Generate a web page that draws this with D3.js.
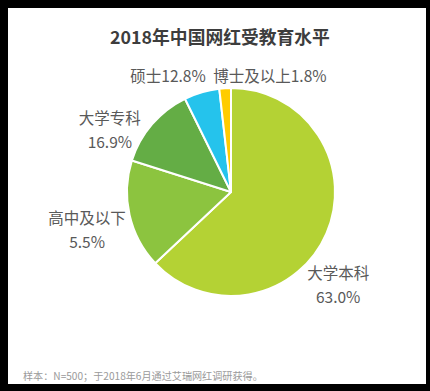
<!DOCTYPE html>
<html>
<head>
<meta charset="utf-8">
<script src="https://cdn.jsdelivr.net/npm/d3@7"></script>
<style>
  html, body { margin: 0; padding: 0; background: #000; }
  svg { display: block; }
</style>
</head>
<body>
<script>
// ---- data ----
const categories = ["大学本科", "高中及以下", "大学专科", "硕士", "博士及以上"];
const values = [63.0, 16.9, 12.8, 5.5, 1.8];
const labelNames = ["大学本科", "高中及以下", "大学专科", "硕士", "博士及以上"];
const labelPercents = ["63.0%", "5.5%", "16.9%", "12.8%", "1.8%"];
const colors = ["#b4d234", "#8cc43f", "#64ad45", "#25c3ec", "#ffcc00"];
const title = "2018年中国网红受教育水平";
const footnote = "样本：N=500；于2018年6月通过艾瑞网红调研获得。";

// ---- layout ----
const W = 430, H = 391;
const cx = 231, cy = 192, R = 104;
// label anchors: [angle (deg clockwise from top), radius, twoLine]
const labelPlacement = [
  {angle: 131, radius: 142, twoLine: true},
  {angle: 255, radius: 149, twoLine: true},
  {angle: 297, radius: 136, twoLine: true},
  {angle: 331.5, radius: 132, twoLine: false},
  {angle: 18.6, radius: 122, twoLine: false}
];

const svg = d3.select("body").append("svg").attr("width", W).attr("height", H);
svg.append("rect").attr("x", 0).attr("y", 0).attr("width", W).attr("height", H).attr("fill", "#000");
svg.append("rect").attr("x", 8).attr("y", 8).attr("width", 418).attr("height", 376).attr("fill", "#fff");

const font = "'Noto Sans CJK SC', 'Noto Sans', sans-serif";

function fitWidth(sel, target, size) {
  const len = sel.node().getComputedTextLength();
  if (len > 0) sel.attr("font-size", size * target / len);
}

const titleText = svg.append("text")
  .attr("x", 220).attr("y", 44)
  .attr("text-anchor", "middle")
  .attr("font-family", font)
  .attr("font-weight", "bold")
  .attr("font-size", 20)
  .attr("fill", "#3d3d3d")
  .text(title);
fitWidth(titleText, 220, 20);

const data = categories.map((c, i) => ({name: c, value: values[i], i}));
const pie = d3.pie().value(d => d.value).sort(null);
const arc = d3.arc().innerRadius(0).outerRadius(R);

const g = svg.append("g").attr("transform", `translate(${cx},${cy})`);
g.selectAll("path").data(pie(data)).join("path")
  .attr("d", arc)
  .attr("fill", d => colors[d.data.i])
  .attr("stroke", "#fff")
  .attr("stroke-width", 2)
  .attr("stroke-linejoin", "round");

const lbl = g.append("g")
  .attr("font-family", font)
  .attr("font-size", 15.5)
  .attr("fill", "#595959")
  .attr("text-anchor", "middle");

labelPlacement.forEach((p, i) => {
  const a = p.angle * Math.PI / 180;
  const x = Math.sin(a) * p.radius;
  const y = -Math.cos(a) * p.radius;
  if (p.twoLine) {
    lbl.append("text").attr("x", x).attr("y", y - 12 + 5.5).text(labelNames[i]);
    lbl.append("text").attr("x", x).attr("y", y + 12 + 5.5).text(labelPercents[i]);
  } else {
    lbl.append("text").attr("x", x).attr("y", y + 5.5).text(labelNames[i] + labelPercents[i]);
  }
});

const foot = svg.append("text")
  .attr("x", 23).attr("y", 380)
  .attr("font-family", font)
  .attr("font-size", 11)
  .attr("fill", "#9a9a9a")
  .text(footnote);
fitWidth(foot, 240, 11);
</script>
</body>
</html>
